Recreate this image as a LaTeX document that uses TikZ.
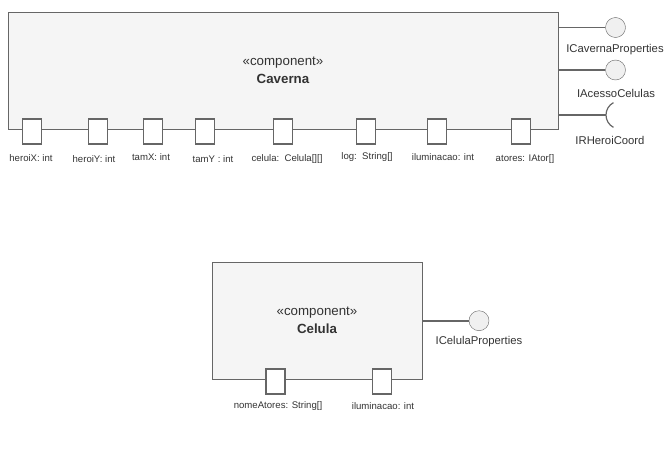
\documentclass[tikz,border=0pt]{standalone}
\usepackage{fontspec}
\setmainfont{Liberation Sans}
\definecolor{boxgray}{HTML}{F5F5F5}
\definecolor{linegray}{HTML}{666666}
\definecolor{ifacegray}{HTML}{F0F0F0}
\definecolor{textgray}{HTML}{333333}

\begin{document}
\begin{tikzpicture}[x=1pt,y=-1pt]
            \tikzstyle{comp}=[draw=linegray,fill=boxgray,text=textgray,align=center,inner sep=0pt,font=\fontsize{13.3}{18}\selectfont]
            \tikzstyle{port}=[draw=linegray,line width=1.8pt,fill=white,minimum width=19pt,minimum height=25.5pt,inner sep=0pt]
            \tikzstyle{plabel}=[text=textgray,font=\fontsize{9.6}{11}\selectfont,inner sep=0pt]
            \tikzstyle{iface}=[circle,draw=linegray,fill=ifacegray,minimum size=20pt,inner sep=0pt]
            \tikzstyle{ilabel}=[text=textgray,font=\fontsize{11.3}{13}\selectfont,inner sep=0pt]
            \tikzstyle{wire}=[draw=linegray,line width=1.8pt]
            \useasboundingbox (0,0) rectangle (667,455);

            % Caverna
            \node[comp,minimum width=550pt,minimum height=117pt] (caverna) at (283,70.5) {«component»\\\textbf{Caverna}};
            \foreach \num/\x in {1/32, 2/98, 3/153, 4/205, 5/283, 6/366, 7/437, 8/521}
                    \node[port] (P-\num) at (\x,131.5) {};
            \foreach \num/\x/\y/\txt in {1/31/158/{heroiX: int}, 2/94/159/{heroiY: int}, 3/151/157/{tamX: int},
                    4/213/159/{tamY : int}, 5/287/159/{celula:\ \ Celula[][]}, 6/367/157/{log:\ \ String[]},
                    7/443/157/{iluminacao: int}, 8/525/159/{atores: IAtor[]}}
                    \node[plabel] (L-\num) at (\x,\y) {\txt};

            \node[iface] (I-1) at (615.5,27.5) {};
            \node[iface] (I-2) at (615.5,70) {};
            \coordinate (S-3) at (606,115);
            \foreach \num in {1, 2}
                    \draw[wire] (I-\num.west -| caverna.east) -- (I-\num.west);
            \draw[wire] (S-3 -| caverna.east) -- (S-3);
            \draw[draw=linegray,line width=1.2pt] (S-3) arc[start angle=180,end angle=242,radius=14pt]
                        (S-3) arc[start angle=180,end angle=118,radius=14pt];
            \node[ilabel] (T-1) at (615,50) {ICavernaProperties};
            \node[ilabel] (T-2) at (616,93) {IAcessoCelulas};
            \node[ilabel] (T-3) at (610,140) {IRHeroiCoord};

            % Celula
            \node[comp,minimum width=210pt,minimum height=117pt] (celula) at (317,320.5) {«component»\\\textbf{Celula}};
            \foreach \num/\x in {9/275.5, 10/382}
                    \node[port] (P-\num) at (\x,381.5) {};
            \node[plabel] (L-9) at (278,406) {nomeAtores: String[]};
            \node[plabel] (L-10) at (383,406) {iluminacao: int};
            \node[iface] (I-4) at (479,320.7) {};
            \draw[wire] (I-4.west -| celula.east) -- (I-4.west);
            \node[ilabel] (T-4) at (479,342) {ICelulaProperties};
\end{tikzpicture}
\end{document}
